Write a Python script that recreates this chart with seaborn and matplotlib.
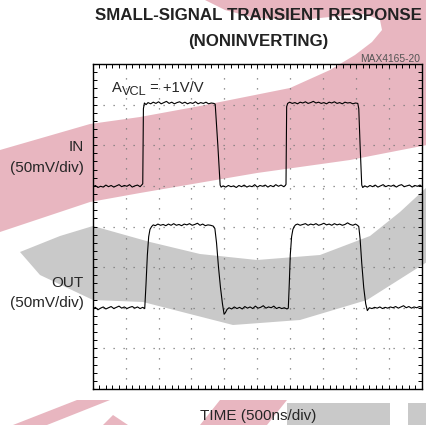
import matplotlib
matplotlib.use("Agg")
import matplotlib.pyplot as plt
from matplotlib.patches import Polygon
from matplotlib.ticker import MultipleLocator
import seaborn as sns

# scope traces, in divisions (x: 0..10, y: 0..8)
in_time = [0.00, 0.08, 0.16, 0.24, 0.32, 0.40, 0.48, 0.56, 0.64, 0.72, 0.80, 0.88, 0.96, 1.04, 1.12, 1.20,
           1.28, 1.36, 1.44, 1.50, 1.52, 1.54, 1.57, 1.62, 1.68, 1.76, 1.84, 1.92, 2.00, 2.08, 2.16, 2.24,
           2.32, 2.40, 2.48, 2.56, 2.64, 2.72, 2.80, 2.88, 2.96, 3.04, 3.12, 3.20, 3.28, 3.36, 3.44, 3.52,
           3.60, 3.68, 3.72, 3.80, 3.87, 3.90, 3.96, 4.04, 4.12, 4.20, 4.28, 4.36, 4.44, 4.52, 4.60, 4.68,
           4.76, 4.84, 4.92, 5.00, 5.08, 5.16, 5.24, 5.32, 5.40, 5.48, 5.56, 5.64, 5.72, 5.80, 5.85, 5.87,
           5.89, 5.92, 5.98, 6.06, 6.14, 6.22, 6.30, 6.38, 6.46, 6.54, 6.62, 6.70, 6.78, 6.86, 6.94, 7.02,
           7.10, 7.18, 7.26, 7.34, 7.42, 7.50, 7.58, 7.66, 7.74, 7.82, 7.90, 7.98, 8.05, 8.08, 8.12, 8.17,
           8.20, 8.26, 8.34, 8.42, 8.50, 8.58, 8.66, 8.74, 8.82, 8.90, 8.98, 9.06, 9.14, 9.22, 9.30, 9.38,
           9.46, 9.54, 9.62, 9.70, 9.78, 9.86, 9.94, 10.00]
in_level = [4.97, 5.01, 4.96, 4.99, 4.97, 5.02, 4.98, 5.01, 4.97, 5.00, 5.03, 4.98, 5.01, 4.99, 5.03, 4.97,
            5.00, 5.02, 4.98, 5.03, 5.05, 6.90, 7.04, 7.00, 7.05, 7.02, 7.06, 7.03, 7.07, 7.02, 7.05, 7.08,
            7.03, 7.06, 7.02, 7.05, 7.07, 7.03, 7.06, 7.02, 7.05, 7.03, 7.07, 7.02, 7.05, 7.03, 7.06, 7.02,
            7.04, 7.03, 7.01, 6.00, 5.02, 4.97, 5.00, 4.97, 5.01, 4.98, 5.00, 4.96, 5.01, 4.98, 5.02, 4.97,
            5.00, 4.98, 5.03, 4.97, 5.01, 4.99, 5.02, 4.97, 5.01, 4.98, 5.03, 4.99, 5.02, 4.98, 5.01, 5.04,
            6.95, 7.03, 7.06, 7.03, 7.05, 7.02, 7.06, 7.04, 7.07, 7.03, 7.05, 7.08, 7.04, 7.06, 7.03, 7.05,
            7.02, 7.06, 7.04, 7.07, 7.03, 7.05, 7.02, 7.06, 7.04, 7.05, 7.02, 7.04, 7.03, 6.90, 6.00, 5.02,
            4.96, 5.00, 4.97, 5.01, 4.98, 5.02, 4.97, 5.00, 5.03, 4.98, 5.01, 4.99, 5.02, 4.97, 5.01, 5.03,
            4.98, 5.00, 5.02, 4.97, 5.01, 4.99, 5.02, 4.98]

out_time = [0.00, 0.08, 0.16, 0.24, 0.32, 0.40, 0.48, 0.56, 0.64, 0.72, 0.80, 0.88, 0.96, 1.04, 1.12, 1.20,
            1.28, 1.36, 1.44, 1.52, 1.58, 1.62, 1.66, 1.70, 1.74, 1.79, 1.84, 1.90, 1.98, 2.06, 2.14, 2.22,
            2.30, 2.38, 2.46, 2.54, 2.62, 2.70, 2.78, 2.86, 2.94, 3.02, 3.10, 3.18, 3.26, 3.34, 3.42, 3.50,
            3.58, 3.66, 3.71, 3.76, 3.82, 3.88, 3.94, 3.99, 4.03, 4.08, 4.14, 4.22, 4.30, 4.38, 4.46, 4.54,
            4.62, 4.70, 4.78, 4.86, 4.94, 5.02, 5.10, 5.18, 5.26, 5.34, 5.42, 5.50, 5.58, 5.66, 5.74, 5.82,
            5.90, 5.94, 5.97, 6.00, 6.04, 6.08, 6.12, 6.16, 6.22, 6.30, 6.38, 6.46, 6.54, 6.62, 6.70, 6.78,
            6.86, 6.94, 7.02, 7.10, 7.18, 7.26, 7.34, 7.42, 7.50, 7.58, 7.66, 7.74, 7.82, 7.90, 7.98, 8.04,
            8.08, 8.12, 8.17, 8.23, 8.29, 8.34, 8.40, 8.48, 8.56, 8.64, 8.72, 8.80, 8.88, 8.96, 9.04, 9.12,
            9.20, 9.28, 9.36, 9.44, 9.52, 9.60, 9.68, 9.76, 9.84, 9.92, 10.00]
out_level = [1.97, 2.01, 1.95, 1.99, 2.02, 1.97, 2.00, 2.03, 1.98, 2.01, 2.04, 1.99, 2.02, 1.98, 2.01, 2.03,
             1.99, 2.02, 1.98, 2.01, 1.98, 2.60, 3.30, 3.75, 3.93, 4.00, 4.04, 4.02, 4.06, 4.03, 4.05, 4.02,
             4.06, 4.03, 4.07, 4.03, 4.05, 4.02, 4.06, 4.04, 4.07, 4.03, 4.05, 4.08, 4.03, 4.06, 4.02, 4.04,
             4.03, 4.01, 3.95, 3.60, 3.00, 2.50, 2.10, 1.84, 1.88, 1.96, 2.00, 1.97, 2.02, 1.98, 2.01, 1.97,
             2.03, 1.99, 2.02, 1.98, 2.04, 1.99, 2.01, 2.05, 1.99, 2.02, 2.00, 2.04, 1.98, 2.01, 1.98, 2.00,
             1.97, 1.99, 2.60, 3.30, 3.75, 3.93, 4.00, 4.04, 4.06, 4.03, 4.05, 4.07, 4.03, 4.06, 4.04, 4.07,
             4.03, 4.05, 4.08, 4.04, 4.06, 4.03, 4.07, 4.04, 4.06, 4.03, 4.05, 4.09, 4.05, 4.03, 4.06, 4.03,
             4.00, 3.70, 3.10, 2.50, 2.10, 1.93, 2.00, 1.98, 2.01, 1.99, 2.02, 1.98, 2.01, 1.99, 2.02, 2.00,
             2.03, 1.99, 2.02, 2.05, 2.00, 2.03, 1.99, 2.02, 2.00, 2.03, 2.01]

W, H = 427, 425
sns.set_style("white")
plt.rcParams["font.family"] = ["Liberation Sans", "DejaVu Sans"]

fig = plt.figure(figsize=(W / 100, H / 100), dpi=100)


def fp(x, y):
    # pixel position (from top-left) -> figure fraction
    return (x / W, 1 - y / H)


# background watermark shapes
pink = "#e8b6c0"
grey = "#c9c9c9"
shapes = [
    (pink, [(0, 232), (90, 202), (140, 193), (257, 173), (350, 160), (427, 145), (427, 0), (205, 0),
            (225, 10), (255, 18), (300, 20), (340, 16), (365, 14), (380, 20), (382, 30), (372, 42),
            (355, 55), (330, 70), (290, 88), (200, 106), (140, 117), (90, 124), (0, 150)]),
    (grey, [(20, 252), (60, 236), (93, 226), (150, 242), (200, 254), (257, 260), (320, 255), (370, 236),
            (400, 212), (427, 187), (427, 262), (367, 300), (300, 320), (233, 325), (143, 302),
            (93, 300), (40, 275)]),
    (pink, [(77, 400), (110, 400), (47, 425), (13, 425)]),
    (pink, [(113, 415), (128, 425), (103, 425)]),
    (pink, [(220, 400), (287, 400), (267, 425), (200, 425)]),
    (grey, [(287, 403), (390, 403), (390, 425), (287, 425)]),
    (grey, [(408, 403), (427, 403), (427, 425), (408, 425)]),
]
for col, pts in shapes:
    fig.add_artist(Polygon([fp(x, y) for x, y in pts], closed=True, transform=fig.transFigure,
                           facecolor=col, edgecolor="none", zorder=-1))

left, top, right, bottom = 92.7, 64, 422, 389
ax = fig.add_axes([left / W, 1 - bottom / H, (right - left) / W, (bottom - top) / H])
ax.set_facecolor("none")

sns.lineplot(x=in_time, y=in_level, ax=ax, color="black", lw=0.8, sort=False, estimator=None)
sns.lineplot(x=out_time, y=out_level, ax=ax, color="black", lw=0.8, sort=False, estimator=None)

ax.set_xlim(0, 10)
ax.set_ylim(0, 8)
ax.xaxis.set_major_locator(MultipleLocator(1))
ax.yaxis.set_major_locator(MultipleLocator(1))
ax.xaxis.set_minor_locator(MultipleLocator(0.2))
ax.yaxis.set_minor_locator(MultipleLocator(0.2))
ax.tick_params(which="both", direction="in", length=3, width=0.7, color="black",
               top=True, right=True, bottom=True, left=True,
               labelbottom=False, labelleft=False)
ax.grid(True, which="major", color="#777777", linestyle=(0, (1, 7)), linewidth=0.9)
for sp in ax.spines.values():
    sp.set_color("black")
    sp.set_linewidth(1.0)
ax.set_xlabel("")
ax.set_ylabel("")

# texts
fig.text(*fp(258, 20), "SMALL-SIGNAL TRANSIENT RESPONSE", ha="center", va="baseline",
         fontsize=12.2, fontweight="bold", color="#222222")
fig.text(*fp(258, 46), "(NONINVERTING)", ha="center", va="baseline",
         fontsize=12.2, fontweight="bold", color="#222222")
fig.text(*fp(420, 62), "MAX4165-20", ha="right", va="baseline", fontsize=7.4, color="#555555")

lab = 11
fig.text(*fp(84, 151), "IN", ha="right", va="baseline", fontsize=lab)
fig.text(*fp(84, 172), "(50mV/div)", ha="right", va="baseline", fontsize=lab)
fig.text(*fp(84, 287), "OUT", ha="right", va="baseline", fontsize=lab)
fig.text(*fp(84, 307), "(50mV/div)", ha="right", va="baseline", fontsize=lab)
fig.text(*fp(258, 420), "TIME (500ns/div)", ha="center", va="baseline", fontsize=lab)

t1 = fig.text(*fp(112, 92), "A", ha="left", va="baseline", fontsize=10.6)
t2 = ax.annotate("VCL", xy=(1, 0), xycoords=t1, xytext=(0, -2), textcoords="offset points",
                 ha="left", va="bottom", fontsize=9.2)
ax.annotate(" = +1V/V", xy=(1, 0), xycoords=t2, xytext=(0, 2), textcoords="offset points",
            ha="left", va="bottom", fontsize=10.6)

fig.savefig("out.png", dpi=100)
